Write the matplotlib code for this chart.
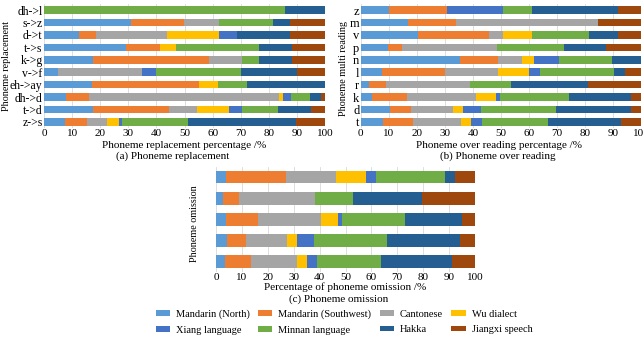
import numpy as np
import matplotlib.pyplot as plt

plt.rcParams['font.family'] = ['Liberation Serif', 'DejaVu Serif']

# dialect groups and colours
dialects = ['Mandarin (North)', 'Mandarin (Southwest)', 'Cantonese', 'Wu dialect',
            'Xiang language', 'Minnan language', 'Hakka', 'Jiangxi speech']
colors = ['#5B9BD5', '#ED7D31', '#A5A5A5', '#FFC000',
          '#4472C4', '#70AD47', '#255E91', '#9E480E']

# (a) phoneme replacement, bottom to top
repl_labels = ['z->s', 't->d', 'dh->d', 'eh->ay', 'v->f', 'k->g', 't->s', 'd->t', 's->z', 'dh->l']
repl_values = [
    [7.4, 7.9, 7.1, 4.2, 1.2, 23.5, 38.4, 10.3],
    [17.3, 27.2, 10.0, 11.5, 4.3, 13.1, 11.5, 5.1],
    [7.8, 8.1, 67.7, 1.6, 2.7, 6.8, 3.9, 1.4],
    [17.0, 38.1, 0, 6.9, 0, 10.3, 27.7, 0],
    [5.0, 0, 29.9, 0, 4.9, 30.3, 19.8, 10.1],
    [17.5, 41.2, 11.8, 0, 0, 5.9, 11.8, 11.8],
    [29.3, 11.9, 0, 5.9, 0, 29.4, 11.7, 11.8],
    [12.5, 6.1, 25.0, 18.8, 6.4, 0, 18.7, 12.5],
    [31.1, 18.8, 12.5, 0, 0, 19.0, 6.1, 12.5],
    [0, 0, 0, 0, 0, 85.7, 14.3, 0],
]

# (b) phoneme over reading, bottom to top
over_labels = ['t', 'd', 'k', 'r', 'l', 'n', 'p', 'v', 'm', 'z']
over_values = [
    [8.1, 10.7, 16.9, 3.7, 3.9, 23.4, 26.2, 7.1],
    [10.5, 7.5, 14.8, 3.8, 6.2, 26.8, 26.8, 3.6],
    [4.2, 12.4, 24.5, 7.2, 1.4, 24.7, 22.0, 3.6],
    [3.1, 5.8, 30.1, 0, 0, 14.7, 27.3, 19.0],
    [7.5, 22.6, 19.0, 11.1, 3.8, 26.5, 3.8, 5.7],
    [35.4, 13.5, 8.5, 4.4, 9.1, 18.9, 10.2, 0],
    [9.6, 5.0, 33.9, 0, 0, 24.2, 14.7, 12.6],
    [20.3, 25.6, 5.0, 10.1, 0, 20.5, 10.2, 8.3],
    [17.0, 17.0, 50.8, 0, 0, 0, 0, 15.2],
    [10.2, 20.5, 0, 0, 20.2, 10.1, 30.7, 8.3],
]

# (c) phoneme omission, bottom to top (no category labels)
omit_values = [
    [3.6, 9.9, 17.6, 3.9, 3.9, 24.7, 27.4, 9.0],
    [4.1, 7.5, 15.7, 4.1, 6.4, 28.4, 28.0, 5.8],
    [4.0, 12.1, 24.4, 6.7, 1.6, 24.3, 21.8, 5.1],
    [2.8, 6.1, 29.3, 0, 0, 14.8, 26.4, 20.6],
    [3.7, 23.2, 19.3, 11.6, 3.8, 26.8, 4.0, 7.6],
]

W, H = 643, 338
fig = plt.figure(figsize=(6.43, 3.38), dpi=100)


def make_ax(x0, x1, y0, y1):
    # pixel box -> figure fraction
    return fig.add_axes([x0 / W, 1 - y1 / H, (x1 - x0) / W, (y1 - y0) / H])


def stacked(ax, values, labels=None, height=0.6, ysize=9):
    vals = np.array(values)
    y = np.arange(len(vals))
    left = np.zeros(len(vals))
    handles = []
    for j in range(vals.shape[1]):
        h = ax.barh(y, vals[:, j], left=left, height=height, color=colors[j],
                    label=dialects[j], zorder=3)
        handles.append(h)
        left += vals[:, j]
    ax.set_xlim(0, 100)
    ax.set_ylim(-0.5, len(vals) - 0.5)
    ax.set_xticks(np.arange(0, 101, 10))
    ax.set_yticks(y)
    ax.set_yticklabels(labels if labels is not None else [])
    ax.grid(axis='x', color='#D9D9D9', linewidth=0.6, zorder=0)
    for s in ax.spines.values():
        s.set_visible(False)
    ax.tick_params(axis='x', length=0, labelsize=8, pad=0.5)
    ax.tick_params(axis='y', length=0, labelsize=ysize, pad=1)
    return handles


def text_px(x, y, s, size=8, **kw):
    fig.text(x / W, 1 - y / H, s, ha='center', va='center', fontsize=size, **kw)


# (a)
ax_a = make_ax(44, 325, 3.8, 128.2)
handles = stacked(ax_a, repl_values, repl_labels, ysize=8.5)
text_px(6.5, 66, 'Phoneme replacement', size=7.3, rotation=90)
text_px(184, 145, 'Phoneme replacement percentage /%')
text_px(173, 156, '(a) Phoneme replacement')

# (b)
ax_b = make_ax(360.7, 641, 3.8, 128.2)
stacked(ax_b, over_values, over_labels)
text_px(343, 68, 'Phoneme multi reading', size=7.3, rotation=90)
text_px(499, 145, 'Phoneme over reading percentage /%')
text_px(497.5, 156, '(b) Phoneme over reading')

# (c)
ax_c = make_ax(216, 475, 166.6, 272)
stacked(ax_c, omit_values)
text_px(195, 224, 'Phoneme omission', size=7.3, rotation=90)
text_px(345, 287, 'Percentage of phoneme omission /%')
text_px(338.5, 299, '(c) Phoneme omission')

order = [0, 4, 1, 5, 2, 6, 3, 7]
fig.legend([handles[i] for i in order], [dialects[i] for i in order],
           loc='center', bbox_to_anchor=(344 / W, 1 - 322 / H), ncol=4, frameon=False,
           fontsize=7.5, handlelength=1.35, handleheight=0.4, columnspacing=0.8,
           handletextpad=0.6, labelspacing=0.65, borderpad=0)

fig.savefig('out.png', dpi=100)
